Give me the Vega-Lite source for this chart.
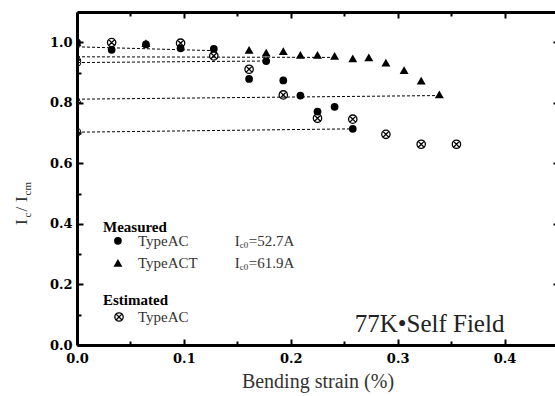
{
  "$schema": "https://vega.github.io/schema/vega-lite/v6.json",
  "autosize": "none",
  "width": 481,
  "height": 333,
  "padding": {"left": 77, "top": 12, "right": 0, "bottom": 51},
  "background": "white",
  "config": {
    "view": {"stroke": null},
    "axis": {"grid": false, "labelFlush": false, "labelOverlap": false, "labelFont": "DejaVu Serif", "labelFontWeight": "bold", "labelFontSize": 13, "labelColor": "black", "domainColor": "black", "tickColor": "black", "titleFont": "Liberation Serif", "titleFontWeight": "normal", "titleColor": "#333"}
  },
  "datasets": {
    "fits": [
      {"fit": "L1", "strain": 0, "ratio": 0.985}, {"fit": "L1", "strain": 0.131, "ratio": 0.972},
      {"fit": "L2", "strain": 0, "ratio": 0.952}, {"fit": "L2", "strain": 0.238, "ratio": 0.950},
      {"fit": "L3", "strain": 0, "ratio": 0.933}, {"fit": "L3", "strain": 0.175, "ratio": 0.938},
      {"fit": "L4", "strain": 0, "ratio": 0.812}, {"fit": "L4", "strain": 0.339, "ratio": 0.824},
      {"fit": "L5", "strain": 0, "ratio": 0.703}, {"fit": "L5", "strain": 0.258, "ratio": 0.714}
    ],
    "fitstarts": [
      {"series": "TypeACT", "strain": 0, "ratio": 0.952},
      {"series": "TypeAC", "strain": 0, "ratio": 0.933},
      {"series": "TypeACT", "strain": 0, "ratio": 0.812},
      {"series": "TypeAC", "strain": 0, "ratio": 0.703}
    ],
    "ac": [
      {"strain": 0, "ratio": 1.0},
      {"strain": 0.0324, "ratio": 0.975},
      {"strain": 0.0645, "ratio": 0.993},
      {"strain": 0.0969, "ratio": 0.980},
      {"strain": 0.128, "ratio": 0.978},
      {"strain": 0.161, "ratio": 0.879},
      {"strain": 0.177, "ratio": 0.938},
      {"strain": 0.193, "ratio": 0.874},
      {"strain": 0.209, "ratio": 0.824},
      {"strain": 0.225, "ratio": 0.771},
      {"strain": 0.241, "ratio": 0.787},
      {"strain": 0.258, "ratio": 0.714}
    ],
    "act": [
      {"strain": 0, "ratio": 1.0},
      {"strain": 0.0645, "ratio": 0.997},
      {"strain": 0.161, "ratio": 0.975},
      {"strain": 0.177, "ratio": 0.966},
      {"strain": 0.193, "ratio": 0.971},
      {"strain": 0.209, "ratio": 0.958},
      {"strain": 0.225, "ratio": 0.958},
      {"strain": 0.241, "ratio": 0.955},
      {"strain": 0.258, "ratio": 0.947},
      {"strain": 0.273, "ratio": 0.950},
      {"strain": 0.289, "ratio": 0.933},
      {"strain": 0.306, "ratio": 0.908},
      {"strain": 0.322, "ratio": 0.873},
      {"strain": 0.339, "ratio": 0.828}
    ],
    "est": [
      {"strain": 0.0324, "ratio": 0.999},
      {"strain": 0.0969, "ratio": 0.997},
      {"strain": 0.128, "ratio": 0.955},
      {"strain": 0.161, "ratio": 0.911},
      {"strain": 0.193, "ratio": 0.826},
      {"strain": 0.225, "ratio": 0.749},
      {"strain": 0.258, "ratio": 0.746},
      {"strain": 0.289, "ratio": 0.696},
      {"strain": 0.322, "ratio": 0.663},
      {"strain": 0.355, "ratio": 0.663}
    ]
  },
  "resolve": {"axis": {"x": "independent", "y": "independent"}},
  "layer": [
    {
      "data": {"name": "fits"},
      "mark": {"type": "line", "color": "black", "strokeWidth": 1, "strokeDash": [3, 2], "clip": true},
      "encoding": {
        "x": {"field": "strain", "type": "quantitative", "scale": {"domain": [0, 0.45], "nice": false},
          "axis": {"orient": "bottom", "values": [0, 0.1, 0.2, 0.3, 0.4], "format": ".1f", "domainWidth": 3, "tickSize": -6, "tickWidth": 2, "labelPadding": 13, "title": "Bending strain (%)", "titleFontSize": 20, "titlePadding": 6}},
        "y": {"field": "ratio", "type": "quantitative", "scale": {"domain": [0, 1.1], "nice": false},
          "axis": {"orient": "left", "values": [0, 0.2, 0.4, 0.6, 0.8, 1.0], "format": ".1f", "domainWidth": 3, "tickSize": -6, "tickWidth": 2, "labelPadding": 11, "title": null}},
        "detail": {"field": "fit"}
      }
    },
    {
      "data": {"name": "ac"},
      "mark": {"type": "point", "shape": "circle", "filled": true, "color": "black", "opacity": 1, "size": 60, "clip": true},
      "encoding": {
        "x": {"field": "strain", "type": "quantitative", "axis": {"orient": "top", "values": [0, 0.1, 0.2, 0.3, 0.4], "labels": false, "domainWidth": 3, "tickSize": -6, "tickWidth": 2, "title": null}},
        "y": {"field": "ratio", "type": "quantitative", "axis": {"orient": "right", "values": [0, 0.2, 0.4, 0.6, 0.8, 1.0], "labels": false, "domainWidth": 3, "tickSize": -5, "tickWidth": 2, "title": null}}
      }
    },
    {
      "data": {"name": "act"},
      "mark": {"type": "point", "shape": "triangle-up", "filled": true, "color": "black", "opacity": 1, "size": 80, "clip": true},
      "encoding": {
        "x": {"field": "strain", "type": "quantitative", "axis": {"orient": "bottom", "values": [0.05, 0.15, 0.25, 0.35], "labels": false, "domain": false, "tickSize": -4, "tickWidth": 2, "title": null}},
        "y": {"field": "ratio", "type": "quantitative", "axis": {"orient": "left", "values": [0.1, 0.3, 0.5, 0.7, 0.9], "labels": false, "domain": false, "tickSize": -4, "tickWidth": 2, "title": null}}
      }
    },
    {
      "data": {"name": "est"},
      "mark": {"type": "point", "shape": "M-1,0A1,1,0,1,1,1,0A1,1,0,1,1,-1,0ZM-0.7,-0.7L0.7,0.7M-0.7,0.7L0.7,-0.7", "filled": false, "color": "black", "strokeWidth": 1.3, "opacity": 1, "size": 70, "clip": true},
      "encoding": {
        "x": {"field": "strain", "type": "quantitative", "axis": {"orient": "top", "values": [0.05, 0.15, 0.25, 0.35], "labels": false, "domain": false, "tickSize": -4, "tickWidth": 2, "title": null}},
        "y": {"field": "ratio", "type": "quantitative", "axis": {"orient": "right", "values": [0.1, 0.3, 0.5, 0.7, 0.9], "labels": false, "domain": false, "tickSize": -3, "tickWidth": 1, "tickColor": "#bbb", "title": null}}
      }
    },
    {
      "data": {"name": "fitstarts"},
      "mark": {"type": "point", "filled": false, "color": "black", "strokeWidth": 1, "opacity": 1, "size": 60, "clip": true},
      "encoding": {
        "x": {"field": "strain", "type": "quantitative", "axis": null},
        "y": {"field": "ratio", "type": "quantitative", "axis": null},
        "shape": {"field": "series", "type": "nominal", "scale": {"domain": ["TypeAC", "TypeACT"], "range": ["circle", "triangle-up"]}, "legend": null}
      }
    },
    {
      "data": {"values": [{}]},
      "layer": [
        {"mark": {"type": "text", "text": "Measured", "font": "Liberation Serif", "fontWeight": "bold", "fontSize": 15, "align": "left", "baseline": "middle", "color": "black"},
          "encoding": {"x": {"datum": 0.0243, "type": "quantitative", "axis": null}, "y": {"datum": 0.390, "type": "quantitative", "axis": null}}},
        {"mark": {"type": "point", "shape": "circle", "filled": true, "color": "black", "opacity": 1, "size": 60},
          "encoding": {"x": {"datum": 0.0383, "type": "quantitative", "axis": null}, "y": {"datum": 0.344, "type": "quantitative", "axis": null}}},
        {"mark": {"type": "text", "text": "TypeAC", "font": "Liberation Serif", "fontSize": 15, "align": "left", "baseline": "middle", "color": "#333"},
          "encoding": {"x": {"datum": 0.057, "type": "quantitative", "axis": null}, "y": {"datum": 0.344, "type": "quantitative", "axis": null}}},
        {"mark": {"type": "text", "text": "I", "font": "Liberation Serif", "fontSize": 15, "align": "left", "baseline": "middle", "color": "#333"},
          "encoding": {"x": {"datum": 0.1477, "type": "quantitative", "axis": null}, "y": {"datum": 0.344, "type": "quantitative", "axis": null}}},
        {"mark": {"type": "text", "text": "c0", "font": "Liberation Serif", "fontSize": 9, "align": "left", "baseline": "middle", "color": "#333"},
          "encoding": {"x": {"datum": 0.1523, "type": "quantitative", "axis": null}, "y": {"datum": 0.330, "type": "quantitative", "axis": null}}},
        {"mark": {"type": "text", "text": "=52.7A", "font": "Liberation Serif", "fontSize": 15, "align": "left", "baseline": "middle", "color": "#333"},
          "encoding": {"x": {"datum": 0.1607, "type": "quantitative", "axis": null}, "y": {"datum": 0.344, "type": "quantitative", "axis": null}}},
        {"mark": {"type": "point", "shape": "triangle-up", "filled": true, "color": "black", "opacity": 1, "size": 80},
          "encoding": {"x": {"datum": 0.0383, "type": "quantitative", "axis": null}, "y": {"datum": 0.271, "type": "quantitative", "axis": null}}},
        {"mark": {"type": "text", "text": "TypeACT", "font": "Liberation Serif", "fontSize": 15, "align": "left", "baseline": "middle", "color": "#333"},
          "encoding": {"x": {"datum": 0.057, "type": "quantitative", "axis": null}, "y": {"datum": 0.271, "type": "quantitative", "axis": null}}},
        {"mark": {"type": "text", "text": "I", "font": "Liberation Serif", "fontSize": 15, "align": "left", "baseline": "middle", "color": "#333"},
          "encoding": {"x": {"datum": 0.1477, "type": "quantitative", "axis": null}, "y": {"datum": 0.271, "type": "quantitative", "axis": null}}},
        {"mark": {"type": "text", "text": "c0", "font": "Liberation Serif", "fontSize": 9, "align": "left", "baseline": "middle", "color": "#333"},
          "encoding": {"x": {"datum": 0.1523, "type": "quantitative", "axis": null}, "y": {"datum": 0.257, "type": "quantitative", "axis": null}}},
        {"mark": {"type": "text", "text": "=61.9A", "font": "Liberation Serif", "fontSize": 15, "align": "left", "baseline": "middle", "color": "#333"},
          "encoding": {"x": {"datum": 0.1607, "type": "quantitative", "axis": null}, "y": {"datum": 0.271, "type": "quantitative", "axis": null}}},
        {"mark": {"type": "text", "text": "Estimated", "font": "Liberation Serif", "fontWeight": "bold", "fontSize": 15, "align": "left", "baseline": "middle", "color": "black"},
          "encoding": {"x": {"datum": 0.0243, "type": "quantitative", "axis": null}, "y": {"datum": 0.1487, "type": "quantitative", "axis": null}}},
        {"mark": {"type": "point", "shape": "M-1,0A1,1,0,1,1,1,0A1,1,0,1,1,-1,0ZM-0.7,-0.7L0.7,0.7M-0.7,0.7L0.7,-0.7", "filled": false, "color": "black", "strokeWidth": 1.3, "opacity": 1, "size": 70},
          "encoding": {"x": {"datum": 0.0393, "type": "quantitative", "axis": null}, "y": {"datum": 0.0925, "type": "quantitative", "axis": null}}},
        {"mark": {"type": "text", "text": "TypeAC", "font": "Liberation Serif", "fontSize": 15, "align": "left", "baseline": "middle", "color": "#333"},
          "encoding": {"x": {"datum": 0.057, "type": "quantitative", "axis": null}, "y": {"datum": 0.0925, "type": "quantitative", "axis": null}}},
        {"mark": {"type": "text", "text": "77K•Self Field", "font": "Liberation Serif", "fontSize": 25, "align": "left", "baseline": "alphabetic", "color": "#222"},
          "encoding": {"x": {"datum": 0.2598, "type": "quantitative", "axis": null}, "y": {"datum": 0.043, "type": "quantitative", "axis": null}}},
        {"mark": {"type": "text", "text": "I", "font": "Liberation Serif", "fontSize": 17, "angle": 270, "align": "left", "baseline": "alphabetic", "color": "#333"},
          "encoding": {"x": {"datum": -0.0467, "type": "quantitative", "axis": null}, "y": {"datum": 0.3964, "type": "quantitative", "axis": null}}},
        {"mark": {"type": "text", "text": "c", "font": "Liberation Serif", "fontSize": 11, "angle": 270, "align": "left", "baseline": "alphabetic", "color": "#333"},
          "encoding": {"x": {"datum": -0.043, "type": "quantitative", "axis": null}, "y": {"datum": 0.421, "type": "quantitative", "axis": null}}},
        {"mark": {"type": "text", "text": "/", "font": "Liberation Serif", "fontSize": 17, "angle": 270, "align": "left", "baseline": "alphabetic", "color": "#333"},
          "encoding": {"x": {"datum": -0.0467, "type": "quantitative", "axis": null}, "y": {"datum": 0.441, "type": "quantitative", "axis": null}}},
        {"mark": {"type": "text", "text": "I", "font": "Liberation Serif", "fontSize": 17, "angle": 270, "align": "left", "baseline": "alphabetic", "color": "#333"},
          "encoding": {"x": {"datum": -0.0467, "type": "quantitative", "axis": null}, "y": {"datum": 0.472, "type": "quantitative", "axis": null}}},
        {"mark": {"type": "text", "text": "cm", "font": "Liberation Serif", "fontSize": 11, "angle": 270, "align": "left", "baseline": "alphabetic", "color": "#333"},
          "encoding": {"x": {"datum": -0.043, "type": "quantitative", "axis": null}, "y": {"datum": 0.494, "type": "quantitative", "axis": null}}}
      ]
    }
  ]
}
